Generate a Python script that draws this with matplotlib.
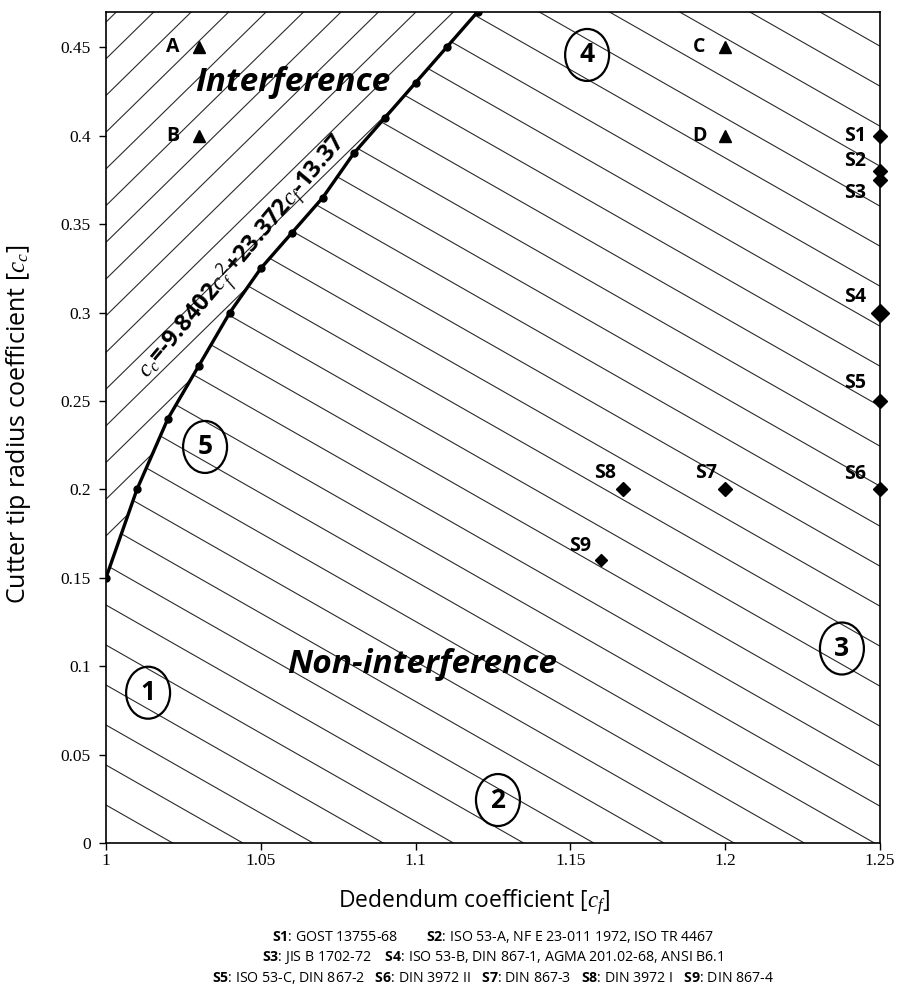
import numpy as np
import matplotlib.pyplot as plt
from matplotlib.collections import LineCollection
from matplotlib.patches import Polygon, Ellipse
from matplotlib.ticker import MultipleLocator, FormatStrFormatter

plt.rcParams['font.family'] = ['Open Sans', 'DejaVu Sans']
plt.rcParams['mathtext.fontset'] = 'custom'
plt.rcParams['mathtext.it'] = 'Liberation Serif:italic'
plt.rcParams['mathtext.rm'] = 'Open Sans'
plt.rcParams['mathtext.bf'] = 'Open Sans:bold'

# limit curve (interference / non-interference)
cf = [1.00, 1.01, 1.02, 1.03, 1.04, 1.05, 1.06, 1.07, 1.08, 1.09, 1.10, 1.11, 1.12]
cc = [0.15, 0.20, 0.24, 0.27, 0.30, 0.325, 0.345, 0.365, 0.39, 0.41, 0.43, 0.45, 0.47]

# test points
pt_labels = ['A', 'B', 'C', 'D']
pt_cf = [1.03, 1.03, 1.20, 1.20]
pt_cc = [0.45, 0.40, 0.45, 0.40]

# standard racks
std_labels = ['S1', 'S2', 'S3', 'S4', 'S5', 'S6', 'S7', 'S8', 'S9']
std_cf = [1.25, 1.25, 1.25, 1.25, 1.25, 1.25, 1.20, 1.167, 1.16]
std_cc = [0.40, 0.38, 0.375, 0.30, 0.25, 0.20, 0.20, 0.20, 0.16]

# numbered zones
zone_labels = ['1', '2', '3', '4', '5']
zone_cf = [1.0136, 1.1266, 1.2377, 1.1554, 1.032]
zone_cc = [0.085, 0.0243, 0.110, 0.4457, 0.224]

notes = [
    r'$\mathbf{S1}$: GOST 13755-68        $\mathbf{S2}$: ISO 53-A, NF E 23-011 1972, ISO TR 4467',
    r'$\mathbf{S3}$: JIS B 1702-72    $\mathbf{S4}$: ISO 53-B, DIN 867-1, AGMA 201.02-68, ANSI B6.1',
    r'$\mathbf{S5}$: ISO 53-C, DIN 867-2   $\mathbf{S6}$: DIN 3972 II   $\mathbf{S7}$: DIN 867-3   '
    r'$\mathbf{S8}$: DIN 3972 I   $\mathbf{S9}$: DIN 867-4',
]

xmin, xmax, ymin, ymax = 1.0, 1.25, 0.0, 0.47

W, H = 897, 988
fig = plt.figure(figsize=(W / 100, H / 100), dpi=100)
ax = fig.add_axes([106 / W, 1 - 843 / H, 774 / W, 831 / H])
ax.set_xlim(xmin, xmax)
ax.set_ylim(ymin, ymax)

# regions on either side of the curve, used to clip the hatch lines
upper = Polygon(list(zip(cf, cc)) + [(xmin, ymax)], facecolor='none', edgecolor='none')
lower = Polygon([(xmin, ymin), (xmax, ymin), (xmax, ymax)] + list(zip(cf, cc))[::-1],
                facecolor='none', edgecolor='none')
ax.add_patch(upper)
ax.add_patch(lower)

bb = ax.get_window_extent()
aw, ah = bb.width, bb.height


def hatch(patch, slope, spacing, phase):
    lo = min(0, -slope * aw) - spacing
    hi = max(ah, ah - slope * aw) + spacing
    k0 = int(np.floor((lo - phase) / spacing))
    k1 = int(np.ceil((hi - phase) / spacing))
    segs = []
    for k in range(k0, k1 + 1):
        b = phase + k * spacing
        segs.append([(0, b / ah), (1, (b + slope * aw) / ah)])
    lc = LineCollection(segs, transform=ax.transAxes, colors='#2b2b2b', linewidths=0.8, zorder=1)
    ax.add_collection(lc)
    lc.set_clip_path(patch)


hatch(upper, 0.98, 36.7, 13.5)
hatch(lower, -0.57, 40.0, 38.0)

ax.plot(cf, cc, '-o', color='black', lw=2.4, ms=5, zorder=4)

ax.plot(pt_cf, pt_cc, '^', color='black', ms=9, zorder=5)
for lab, x, y in zip(pt_labels, pt_cf, pt_cc):
    ax.annotate(lab, (x, y), xytext=(-18.5, 0), textcoords='offset points',
                ha='center', va='center', fontsize=14, fontweight='bold')

std_ms = [7, 7, 7, 9, 7, 7, 7, 7.5, 6]
std_off = [(-18, 0), (-18, 7), (-18, -9.5), (-18, 11.5), (-18, 13), (-18, 11),
           (-13.5, 11.5), (-13, 11.5), (-15, 10)]
for lab, x, y, m, off in zip(std_labels, std_cf, std_cc, std_ms, std_off):
    ax.plot(x, y, 'D', color='black', ms=m, zorder=5, clip_on=False)
    ax.annotate(lab, (x, y), xytext=off, textcoords='offset points',
                ha='center', va='center', fontsize=14, fontweight='bold')

for lab, x, y in zip(zone_labels, zone_cf, zone_cc):
    ax.add_patch(Ellipse((x, y), 0.0142, 0.0294, facecolor='white', edgecolor='black',
                         lw=1.6, fill=False, zorder=6))
    ax.text(x, y, lab, ha='center', va='center', fontsize=19, fontweight='bold', zorder=7)

ax.text(1.0604, 0.4304, 'Interference', ha='center', va='center', fontsize=24,
        fontweight='bold', fontstyle='italic', zorder=6)
ax.text(1.102, 0.1012, 'Non-interference', ha='center', va='center', fontsize=24,
        fontweight='bold', fontstyle='italic', zorder=6)

ax.text(1.0443, 0.3314, r'$c_c$=-9.8402$c_f^{\,2}$+23.372$c_f$-13.37', rotation=50,
        rotation_mode='anchor', ha='center', va='center', fontsize=17, fontweight='bold',
        zorder=6)

ax.xaxis.set_major_locator(MultipleLocator(0.05))
ax.yaxis.set_major_locator(MultipleLocator(0.05))
ax.xaxis.set_major_formatter(FormatStrFormatter('%g'))
ax.yaxis.set_major_formatter(FormatStrFormatter('%g'))
ax.tick_params(direction='out', length=5, width=1, labelsize=12.5)
ax.tick_params(axis='x', pad=2)
ax.tick_params(axis='y', pad=6)
for lbl in ax.get_xticklabels() + ax.get_yticklabels():
    lbl.set_fontfamily('Liberation Serif')
for s in ax.spines.values():
    s.set_linewidth(1.2)

fig.text(474 / W, 1 - 902 / H, r'Dedendum coefficient [$c_f$]', ha='center', va='center',
         fontsize=16.5)
fig.text(19 / W, 1 - 424 / H, r'Cutter tip radius coefficient [$c_c$]', ha='center',
         va='center', rotation=90, fontsize=18)

for i, line in enumerate(notes):
    fig.text(493 / W, 1 - (937 + 20.5 * i) / H, line, ha='center', va='center', fontsize=10.2)

fig.savefig('out.png', dpi=100)
